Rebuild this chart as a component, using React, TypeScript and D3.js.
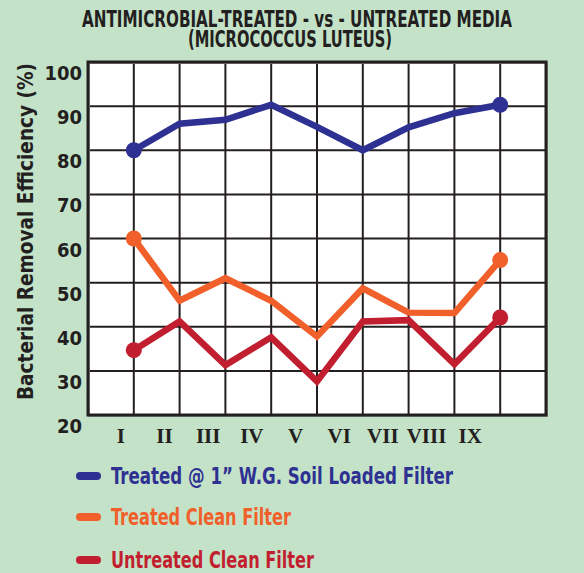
import { useEffect, useRef } from "react";
import * as d3 from "d3";

// categories + series
const categories = ["I", "II", "III", "IV", "V", "VI", "VII", "VIII", "IX"];
const treatedSoil = [80, 86, 86.9, 90.3, 85.3, 80, 85.2, 88.4, 90.3];
const treatedClean = [60, 45.9, 51, 45.9, 37.8, 48.7, 43.2, 43.1, 55.1];
const untreatedClean = [34.7, 41.2, 31.3, 37.6, 27.6, 41.2, 41.5, 31.5, 42.1];
const yTicks = [20, 30, 40, 50, 60, 70, 80, 90, 100];

const SERIES = [
  { name: "Treated @ 1\u201D W.G. Soil Loaded Filter", values: treatedSoil, color: "#2e3192", len: 342 },
  { name: "Treated Clean Filter", values: treatedClean, color: "#f15f2a", len: 180 },
  { name: "Untreated Clean Filter", values: untreatedClean, color: "#c11f2f", len: 203 },
];

const W = 584;
const H = 573;
const FONT = "'DejaVu Sans Condensed', 'DejaVu Sans', sans-serif";
const INK = "#231f20";

export default function App() {
  const svgRef = useRef<SVGSVGElement>(null);

  useEffect(() => {
    if (!svgRef.current) return;
    const svg = d3.select(svgRef.current);
    svg.selectAll("*").remove();

    const left = 88, right = 546, top = 62, bottom = 415;

    // 10 columns; category i sits on gridline i+1
    const x = d3.scaleLinear().domain([0, 10]).range([left, right]);
    const y = d3.scaleLinear().domain([20, 100]).range([bottom, top]);
    // the roman numeral labels drift left of their gridlines in the original
    const xLabel = d3.scaleLinear().domain([1, 9]).range([x(1) - 13, x(9) - 30]);

    svg.append("rect").attr("width", W).attr("height", H).attr("fill", "#c4e2c8");

    // Title
    const title = svg.append("g").attr("font-family", FONT).attr("font-weight", "bold").attr("fill", INK);
    title.append("text").attr("x", 297).attr("y", 27).attr("text-anchor", "middle")
      .attr("font-size", 23).attr("textLength", 430).attr("lengthAdjust", "spacingAndGlyphs")
      .text("ANTIMICROBIAL-TREATED - vs - UNTREATED MEDIA");
    title.append("text").attr("x", 290).attr("y", 47).attr("text-anchor", "middle")
      .attr("font-size", 23).attr("textLength", 204).attr("lengthAdjust", "spacingAndGlyphs")
      .text("(MICROCOCCUS LUTEUS)");

    // Plot background + grid
    svg.append("rect").attr("x", left).attr("y", top).attr("width", right - left).attr("height", bottom - top)
      .attr("fill", "#ffffff");

    const grid = svg.append("g").attr("stroke", INK).attr("stroke-width", 2);
    grid.selectAll("line.h").data(yTicks.slice(1, -1)).enter().append("line")
      .attr("x1", left).attr("x2", right).attr("y1", (d) => y(d)).attr("y2", (d) => y(d));
    grid.selectAll("line.v").data(d3.range(1, 10)).enter().append("line")
      .attr("y1", top).attr("y2", bottom).attr("x1", (d) => x(d)).attr("x2", (d) => x(d));
    svg.append("rect").attr("x", left + 1).attr("y", top + 1).attr("width", right - left).attr("height", bottom - top)
      .attr("fill", "none").attr("stroke", "#9a9a9a").attr("stroke-width", 2);
    svg.append("rect").attr("x", left).attr("y", top).attr("width", right - left).attr("height", bottom - top)
      .attr("fill", "none").attr("stroke", INK).attr("stroke-width", 3);

    // Y tick labels (sit a bit below their gridlines, as in the original)
    svg.append("g").attr("font-family", FONT).attr("font-weight", "bold").attr("font-size", 20).attr("fill", INK)
      .selectAll("text").data(yTicks).enter().append("text")
      .attr("x", 82).attr("y", (d) => y(d) + 18).attr("text-anchor", "end")
      .text((d) => d);

    // Y axis title
    svg.append("text").attr("transform", `translate(33,${(63 + 400) / 2}) rotate(-90)`)
      .attr("text-anchor", "middle").attr("font-family", FONT).attr("font-weight", "bold")
      .attr("font-size", 21).attr("fill", INK)
      .attr("textLength", 337).attr("lengthAdjust", "spacingAndGlyphs")
      .text("Bacterial Removal Efficiency (%)");

    // X labels
    svg.append("g").attr("font-family", "'Liberation Serif', serif").attr("font-weight", "bold")
      .attr("font-size", 21).attr("fill", INK)
      .selectAll("text").data(categories).enter().append("text")
      .attr("x", (_, i) => xLabel(i + 1)).attr("y", 443).attr("text-anchor", "middle")
      .text((d) => d);

    // Lines + end dots
    const line = d3.line<number>().x((_, i) => x(i + 1)).y((d) => y(d));
    SERIES.forEach((s) => {
      svg.append("path").datum(s.values).attr("d", line).attr("fill", "none")
        .attr("stroke", s.color).attr("stroke-width", 6.5).attr("stroke-linejoin", "miter");
      const ends = [0, s.values.length - 1];
      svg.selectAll(null).data(ends).enter().append("circle")
        .attr("cx", (i) => x(i + 1)).attr("cy", (i) => y(s.values[i])).attr("r", 8)
        .attr("fill", s.color);
    });

    // Legend
    const legendY = [476, 517, 560];
    SERIES.forEach((s, i) => {
      svg.append("line").attr("x1", 80).attr("x2", 97).attr("y1", legendY[i]).attr("y2", legendY[i])
        .attr("stroke", s.color).attr("stroke-width", 8).attr("stroke-linecap", "round");
      svg.append("text").attr("x", 111).attr("y", legendY[i] + 8)
        .attr("font-family", FONT).attr("font-weight", "bold").attr("font-size", 23).attr("fill", s.color)
        .attr("textLength", s.len).attr("lengthAdjust", "spacingAndGlyphs")
        .text(s.name);
    });

    return () => {
      svg.selectAll("*").remove();
    };
  }, []);

  return (
    <svg ref={svgRef} width={W} height={H}
      style={{ position: "absolute", left: 0, top: 0, display: "block" }} />
  );
}
